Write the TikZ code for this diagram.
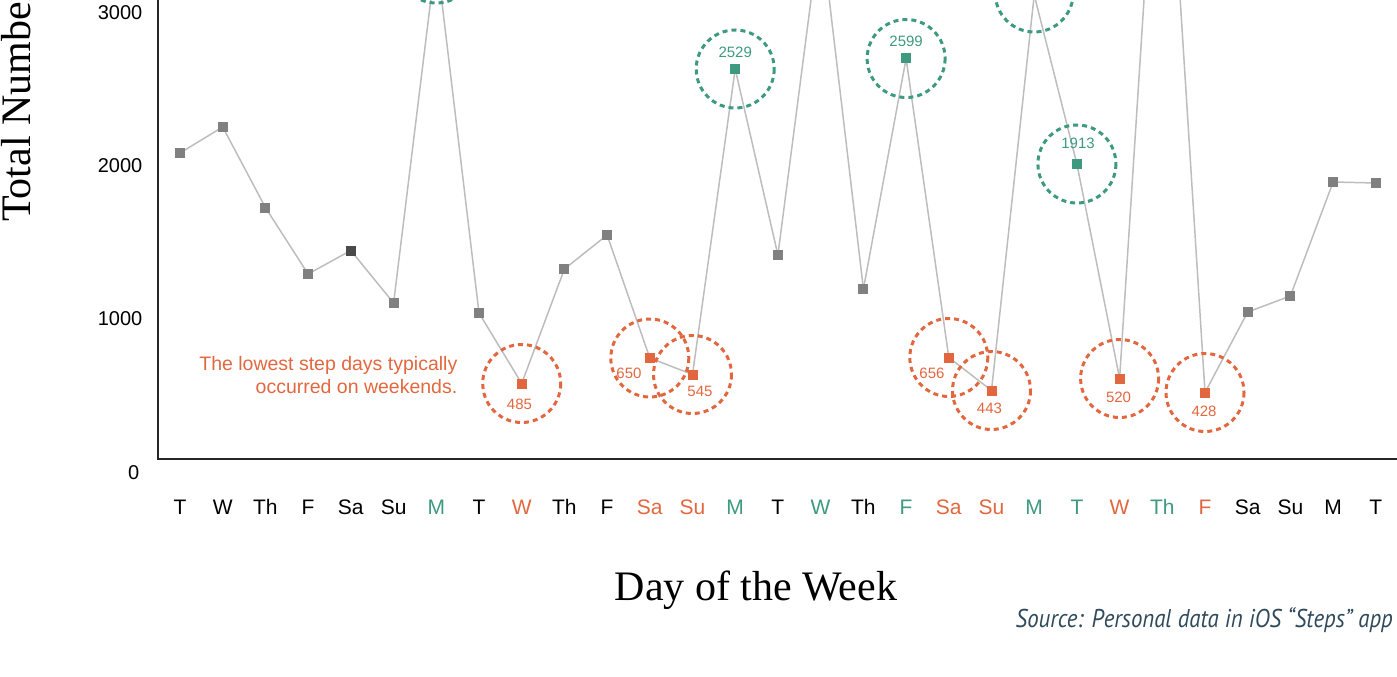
\documentclass[tikz,border=0pt]{standalone}
\usepackage{fontspec}
\setmainfont{Liberation Serif}
\newfontfamily\arialf{Liberation Sans}
\newfontfamily\srcf{PT Sans}
\definecolor{grn}{HTML}{3D9A80}
\definecolor{org}{HTML}{E2673F}
\definecolor{sq}{HTML}{808080}
\definecolor{sqdark}{HTML}{4A4A4A}
\definecolor{ln}{HTML}{BDBDBD}
\definecolor{srccol}{HTML}{2F4A5C}
\tikzset{
  dot/.style={rectangle, inner sep=0pt, minimum size=10pt, fill=sq},
  gdot/.style={dot, fill=grn},
  odot/.style={dot, fill=org},
  ddot/.style={dot, fill=sqdark},
  link/.style={draw=ln, line width=1.5pt},
  gring/.style={draw=grn, line width=3pt, dash pattern=on 5pt off 4pt},
  oring/.style={draw=org, line width=3pt, dash pattern=on 5pt off 4pt},
  tick/.style={font=\arialf\fontsize{20}{24}\selectfont, anchor=east, inner sep=0pt},
  day/.style={font=\arialf\fontsize{21}{25}\selectfont, inner sep=0pt, anchor=base},
  gval/.style={font=\arialf\fontsize{15}{18}\selectfont, text=grn, inner sep=0pt},
  oval/.style={font=\arialf\fontsize{15}{18}\selectfont, text=org, inner sep=0pt},
}
\begin{document}
\begin{tikzpicture}[x=1pt, y=-1pt]
\useasboundingbox (0,0) rectangle (1397,677);
\clip (0,0) rectangle (1397,677);
% data coordinates
\coordinate (c0) at (180,153);
\coordinate (c1) at (222.7,127);
\coordinate (c2) at (265.4,207.5);
\coordinate (c3) at (308.1,274);
\coordinate (c4) at (350.8,250.5);
\coordinate (c5) at (393.6,303);
\coordinate (c6) at (436.3,-45);
\coordinate (c7) at (479,313);
\coordinate (c8) at (521.7,383.5);
\coordinate (c9) at (564.4,269);
\coordinate (c10) at (607.1,235);
\coordinate (c11) at (649.8,358);
\coordinate (c12) at (692.5,374.5);
\coordinate (c13) at (735.2,69);
\coordinate (c14) at (777.9,255);
\coordinate (c15) at (820.6,-74);
\coordinate (c16) at (863.4,289);
\coordinate (c17) at (906.1,58.5);
\coordinate (c18) at (948.8,357.5);
\coordinate (c19) at (991.5,390.5);
\coordinate (c20) at (1034.2,-5);
\coordinate (c21) at (1076.9,164);
\coordinate (c22) at (1119.6,378.5);
\coordinate (c23) at (1162.3,-284);
\coordinate (c24) at (1205,392.5);
\coordinate (c25) at (1247.7,312);
\coordinate (c26) at (1290.4,296);
\coordinate (c27) at (1333.1,182);
\coordinate (c28) at (1375.8,183);
\coordinate (base) at (0,514.5);
% axes
\coordinate (ytop) at (158,0);
\coordinate (orig) at (158,458.5);
\coordinate (xend) at (1397,458.5);
\draw[line width=2pt, draw=black!85] (ytop) -- (orig) -- (xend);
% connecting line
\foreach \i [evaluate=\i as \j using int(\i+1)] in {0,...,27} {
  \draw[link] (c\i) -- (c\j);
}
% squares
\foreach \i in {0,1,2,3,5,7,9,10,14,16,25,26,27,28} { \node[dot] (p\i) at (c\i) {}; }
\node[ddot] (p4) at (c4) {};
\foreach \i in {6,13,15,17,20,21,23} { \node[gdot] (p\i) at (c\i) {}; }
\foreach \i in {8,11,12,18,19,22,24} { \node[odot] (p\i) at (c\i) {}; }
% rings
\draw[gring] (436.3,-36) circle[radius=39];
\draw[gring] (c13) circle[radius=39];
\draw[gring] (c17) circle[radius=39];
\draw[gring] (1034.2,-7) circle[radius=39];
\draw[gring] (c21) circle[radius=39];
\foreach \i in {8,11,12,18,19,22,24} { \draw[oring] (c\i) circle[radius=39]; }
% value labels
\node[gval] (v13) at (735.2,52) {2529};
\node[gval] (v17) at (906.1,41.5) {2599};
\node[gval] (v21) at (1078,143) {1913};
\node[oval] (v8) at (519.5,404.5) {485};
\node[oval] (v11) at (629,373) {650};
\node[oval] (v12) at (700,391.5) {545};
\node[oval] (v18) at (932,373.5) {656};
\node[oval] (v19) at (989.5,408.5) {443};
\node[oval] (v22) at (1118.5,397.5) {520};
\node[oval] (v24) at (1204,411.5) {428};
% annotation
\node[font=\arialf\fontsize{19.5}{23}\selectfont, text=org, align=right, anchor=east, inner sep=0pt] (note) at (457.5,375.5) {The lowest step days typically\\occurred on weekends.};
% y ticks
\node[tick] (t3) at (142.5,12.5) {3000};
\node[tick] (t2) at (142.5,165.5) {2000};
\node[tick] (t1) at (142.5,318.5) {1000};
\node[tick] (t0) at (139.5,472.5) {0};
% day labels
\foreach \i/\d/\c in {0/T/black,1/W/black,2/Th/black,3/F/black,4/Sa/black,5/Su/black,6/M/grn,7/T/black,8/W/org,9/Th/black,10/F/black,11/Sa/org,12/Su/org,13/M/grn,14/T/black,15/W/grn,16/Th/black,17/F/grn,18/Sa/org,19/Su/org,20/M/grn,21/T/grn,22/W/org,23/Th/grn,24/F/org,25/Sa/black,26/Su/black,27/M/black,28/T/black} {
  \node[day, text=\c] (d\i) at (c\i |- base) {\d};
}
% axis titles
\node[font=\fontsize{42}{48}\selectfont, anchor=base, inner sep=0pt] (xt) at (756,600) {Day of the Week};
\node[font=\fontsize{42}{48}\selectfont, anchor=base west, rotate=90, inner sep=0pt] (yt) at (30,222) {Total Number};
% source
\node[anchor=base east, inner sep=0pt, text=srccol] (src) at (1393,627) {\resizebox{377pt}{20pt}{\srcf\itshape Source: Personal data in iOS “Steps” app}};
\end{tikzpicture}
\end{document}
